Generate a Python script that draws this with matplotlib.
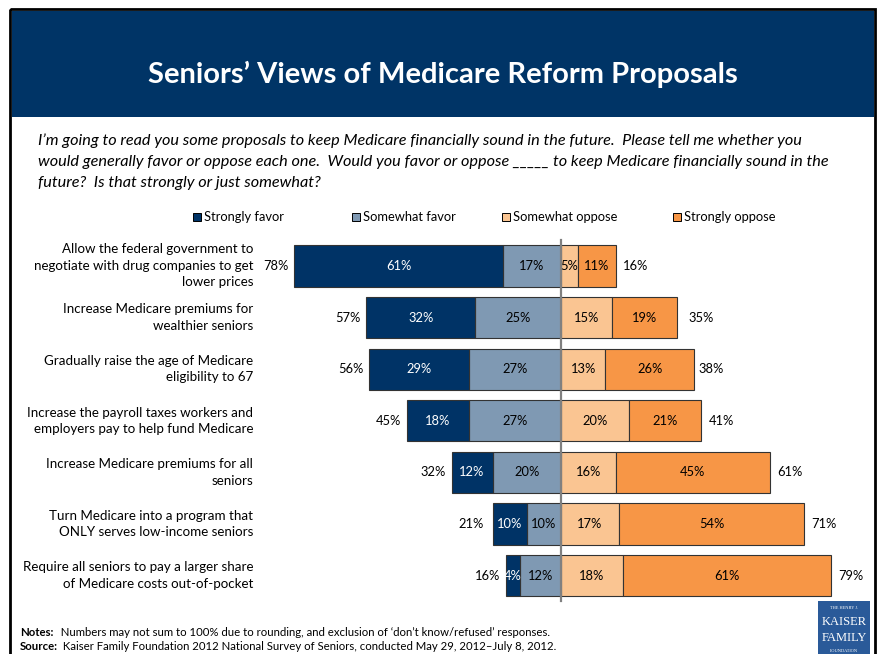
import matplotlib.pyplot as plt
from matplotlib.patches import Rectangle

plt.rcParams['font.family'] = ['Lato', 'DejaVu Sans']

proposals = [
    "Allow the federal government to\nnegotiate with drug companies to get\nlower prices",
    "Increase Medicare premiums for\nwealthier seniors",
    "Gradually raise the age of Medicare\neligibility to 67",
    "Increase the payroll taxes workers and\nemployers pay to help fund Medicare",
    "Increase Medicare premiums for all\nseniors",
    "Turn Medicare into a program that\nONLY serves low-income seniors",
    "Require all seniors to pay a larger share\nof Medicare costs out-of-pocket",
]
strongly_favor = [61, 32, 29, 18, 12, 10, 4]
somewhat_favor = [17, 25, 27, 27, 20, 10, 12]
somewhat_oppose = [5, 15, 13, 20, 16, 17, 18]
strongly_oppose = [11, 19, 26, 21, 45, 54, 61]
total_favor = [78, 57, 56, 45, 32, 21, 16]
total_oppose = [16, 35, 38, 41, 61, 71, 79]

series_names = ["Strongly favor", "Somewhat favor", "Somewhat oppose", "Strongly oppose"]
colors = ["#003366", "#7f99b3", "#fac592", "#f79646"]
header_blue = "#003466"

W, H = 877, 654
fig = plt.figure(figsize=(W / 100, H / 100), dpi=100)

# page-level drawing in pixel coords
bg = fig.add_axes([0, 0, 1, 1])
bg.set_xlim(0, W)
bg.set_ylim(H, 0)
bg.axis('off')
bg.add_patch(Rectangle((10, 9), 865, 660, fill=False, edgecolor='black', lw=2, zorder=1))
bg.add_patch(Rectangle((12, 11), 862, 106, facecolor=header_blue, edgecolor='none', zorder=2))
bg.text(443, 74, "Seniors\u2019 Views of Medicare Reform Proposals", color='white',
        fontsize=21, fontweight='bold', ha='center', va='center', zorder=3)

question = ("I\u2019m going to read you some proposals to keep Medicare financially sound in the future.  Please tell me whether you\n"
            "would generally favor or oppose each one.  Would you favor or oppose _____ to keep Medicare financially sound in the\n"
            "future?  Is that strongly or just somewhat?")
bg.text(38, 133, question, fontsize=11.7, style='italic', ha='left', va='top', linespacing=1.67)

# legend
legend_x = [197, 356, 506, 677]
for name, c, lx in zip(series_names, colors, legend_x):
    bg.add_patch(Rectangle((lx - 4, 213), 8, 8, facecolor=c, edgecolor='black', lw=0.7))
    bg.text(lx + 7, 217, name, fontsize=9.3, ha='left', va='center')

# notes: bold lead-in, then the plain text right after it
renderer = fig.canvas.get_renderer()
notes = [
    (633, "Notes:", "  Numbers may not sum to 100% due to rounding, and exclusion of \u2018don\u2019t know/refused\u2019 responses."),
    (646, "Source:", " Kaiser Family Foundation 2012 National Survey of Seniors, conducted May 29, 2012\u2013July 8, 2012."),
]
for ny, lead, rest in notes:
    t = bg.text(20, ny, lead, fontsize=8.2, fontweight='bold', ha='left', va='center')
    x_end = t.get_window_extent(renderer).x1 * 100 / fig.dpi
    bg.text(x_end + 2, ny, rest, fontsize=8.2, ha='left', va='center')

# foundation logo
bg.add_patch(Rectangle((818, 601), 52, 53, facecolor="#2a5a99", edgecolor='none', zorder=2))
bg.text(844, 608, "THE HENRY J.", color='white', fontsize=3.2, family='Liberation Serif', ha='center', va='center', zorder=3)
bg.text(844, 622, "KAISER", color='white', fontsize=9, family='Liberation Serif', ha='center', va='center', zorder=3)
bg.text(844, 638, "FAMILY", color='white', fontsize=9, family='Liberation Serif', ha='center', va='center', zorder=3)
bg.text(844, 651, "FOUNDATION", color='white', fontsize=3.2, family='Liberation Serif', ha='center', va='center', zorder=3)

# diverging bars; x in percent, 0 at the divide
px_per_pct = 3.42
center_px = 561
row0_px = 266
row_step = 51.6
ax = fig.add_axes([0, 0, 1, 1], facecolor='none')
ax.set_xlim(-center_px / px_per_pct, (W - center_px) / px_per_pct)
ax.set_ylim((H - row0_px) / row_step, -row0_px / row_step)
ax.axis('off')

rows = range(len(proposals))
bar_h = 0.8
ax.barh(rows, [-v for v in somewhat_favor], height=bar_h, color=colors[1], edgecolor='#333333', lw=0.8)
ax.barh(rows, [-v for v in strongly_favor], left=[-v for v in somewhat_favor], height=bar_h,
        color=colors[0], edgecolor='#333333', lw=0.8)
ax.barh(rows, somewhat_oppose, height=bar_h, color=colors[2], edgecolor='#333333', lw=0.8)
ax.barh(rows, strongly_oppose, left=somewhat_oppose, height=bar_h, color=colors[3], edgecolor='#333333', lw=0.8)

ax.plot([0, 0], [-0.5, 6.5], color='#808080', lw=1.6, zorder=5)

fs = 9.3
for i in rows:
    sf, wf, wo, so = strongly_favor[i], somewhat_favor[i], somewhat_oppose[i], strongly_oppose[i]
    ax.text(-wf - sf / 2, i, f"{sf}%", color='white', fontsize=fs, ha='center', va='center', zorder=6)
    ax.text(-wf / 2, i, f"{wf}%", color='black', fontsize=fs, ha='center', va='center', zorder=6)
    ax.text(wo / 2, i, f"{wo}%", color='black', fontsize=fs, ha='center', va='center', zorder=6)
    ax.text(wo + so / 2, i, f"{so}%", color='black', fontsize=fs, ha='center', va='center', zorder=6)
    ax.text(-total_favor[i] - 1.7, i, f"{total_favor[i]}%", fontsize=fs, ha='right', va='center')
    ax.text(total_oppose[i] + 2.2, i, f"{total_oppose[i]}%", fontsize=fs, ha='left', va='center')
    ax.text(-90, i, proposals[i], fontsize=9.6, ha='right', va='center', linespacing=1.45)

fig.savefig("out.png", dpi=100)
